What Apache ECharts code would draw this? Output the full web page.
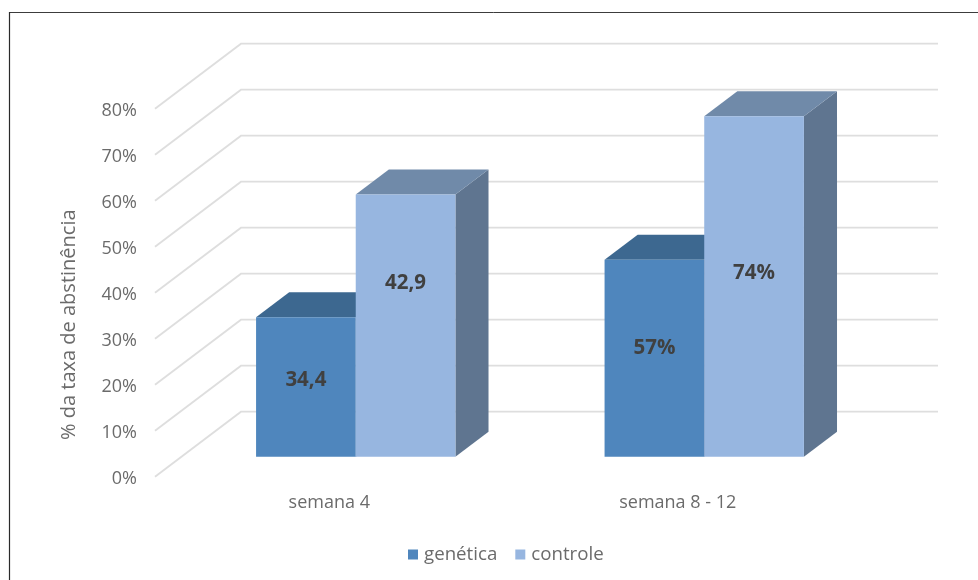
<!DOCTYPE html>
<html>
<head>
<meta charset="utf-8">
<style>html,body{margin:0;padding:0;background:#fff}#c{width:978px;height:580px}</style>
<script src="https://cdn.jsdelivr.net/npm/echarts@6/dist/echarts.min.js"></script>
</head>
<body>
<div id="c"></div>
<script>
const categories = ['semana 4', 'semana 8 - 12'];
const geneticaValues = [30.3, 42.8];
const controleValues = [57.0, 74.0];
const geneticaLabels = ['34,4', '57%'];
const controleLabels = ['42,9', '74%'];
const gridValues = [0, 10, 20, 30, 40, 50, 60, 70, 80];

const FONT = '"Open Sans", sans-serif';
const FLOOR = [86, -65];
const FRONT_GAP = 0.308;
const BAR_DEPTH = 0.385;
const BAR_SHARE = 0.286;
const FACES = {
  genetica: { front: '#4f86bd', top: '#3d6890', side: '#3a5f82' },
  controle: { front: '#97b6e0', top: '#708aa9', side: '#5f7590' }
};
// Vertical lift of each data label above the centre of its bar face, in pixels
const LABEL_LIFT = { genetica: [7, 10], controle: [42, 13] };

function renderGrid(params, api) {
  const p = api.coord([0, api.value(1)]);
  const cs = params.coordSys;
  const x0 = cs.x, y0 = p[1];
  return {
    type: 'polyline',
    shape: { points: [[x0, y0], [x0 + FLOOR[0], y0 + FLOOR[1]], [x0 + FLOOR[0] + cs.width, y0 + FLOOR[1]]] },
    style: { stroke: '#dedede', lineWidth: 1.8, fill: null }
  };
}

function barRenderer(key, side, labels) {
  const c = FACES[key];
  return function (params, api) {
    const idx = api.value(0);
    const base = api.coord([idx, 0]);
    const top = api.coord([idx, api.value(1)]);
    const bw = api.size([1, 0])[0] * BAR_SHARE;
    const ox = FLOOR[0] * FRONT_GAP, oy = FLOOR[1] * FRONT_GAP;
    const dx = FLOOR[0] * BAR_DEPTH, dy = FLOOR[1] * BAR_DEPTH;
    const xl = base[0] + ox + (side < 0 ? -bw : 0);
    const xr = xl + bw;
    const yb = base[1] + oy;
    const yt = top[1] + oy;
    return {
      type: 'group',
      children: [
        { type: 'polygon', shape: { points: [[xr, yt], [xr + dx, yt + dy], [xr + dx, yb + dy], [xr, yb]] }, style: { fill: c.side } },
        { type: 'polygon', shape: { points: [[xl, yt], [xr, yt], [xr + dx, yt + dy], [xl + dx, yt + dy]] }, style: { fill: c.top } },
        { type: 'rect', shape: { x: xl, y: yt, width: bw, height: yb - yt }, style: { fill: c.front } },
        { type: 'text', style: {
            x: (xl + xr) / 2, y: (yt + yb) / 2 - LABEL_LIFT[key][idx],
            text: labels[idx], align: 'center', verticalAlign: 'middle',
            fill: '#404040', font: 'bold 20.5px ' + FONT
        } }
      ]
    };
  };
}

const chart = echarts.init(document.getElementById('c'), null, { renderer: 'canvas' });
chart.setOption({
  animation: false,
  backgroundColor: '#ffffff',
  textStyle: { fontFamily: FONT },
  grid: { left: 155, right: 126, top: 108.7, bottom: 103.3, containLabel: false },
  legend: {
    data: ['genética', 'controle'],
    left: 403, top: 540,
    icon: 'rect', itemWidth: 10, itemHeight: 10, itemGap: 18,
    textStyle: { color: '#6b6b6b', fontSize: 18.7, fontFamily: FONT, padding: [0, 0, 0, 1] }
  },
  xAxis: {
    type: 'category', data: categories,
    axisLine: { show: false }, axisTick: { show: false }, splitLine: { show: false },
    axisLabel: { color: '#6b6b6b', fontSize: 18, margin: 17, fontFamily: FONT }
  },
  yAxis: {
    type: 'value', min: 0, max: 80, interval: 10,
    axisLine: { show: false }, axisTick: { show: false }, splitLine: { show: false },
    axisLabel: {
      margin: 18,
      formatter: '{t|{value}%}',
      rich: { t: { color: '#6b6b6b', fontSize: 18, fontFamily: FONT, padding: [5, 0, 0, 0] } }
    },
    name: '% da taxa de abstinência',
    nameLocation: 'middle', nameGap: 76,
    nameTextStyle: { color: '#6b6b6b', fontSize: 20, fontFamily: FONT, padding: [0, 64, 0, 0] }
  },
  series: [
    { type: 'custom', name: 'grid', silent: true, z: 1, renderItem: renderGrid,
      data: gridValues.map(v => [0, v]), encode: { x: 0, y: 1 } },
    { type: 'custom', name: 'genética', z: 2, renderItem: barRenderer('genetica', -1, geneticaLabels),
      itemStyle: { color: FACES.genetica.front },
      data: geneticaValues.map((v, i) => [i, v]), encode: { x: 0, y: 1 } },
    { type: 'custom', name: 'controle', z: 3, renderItem: barRenderer('controle', 1, controleLabels),
      itemStyle: { color: FACES.controle.front },
      data: controleValues.map((v, i) => [i, v]), encode: { x: 0, y: 1 } }
  ],
  graphic: [
    { type: 'line', silent: true, shape: { x1: 9.5, y1: 12.5, x2: 978, y2: 12.5 }, style: { stroke: '#3c3c3c', lineWidth: 1 } },
    { type: 'line', silent: true, shape: { x1: 9.5, y1: 12, x2: 9.5, y2: 580 }, style: { stroke: '#2a2a2a', lineWidth: 1.2 } }
  ]
});
</script>
</body>
</html>
